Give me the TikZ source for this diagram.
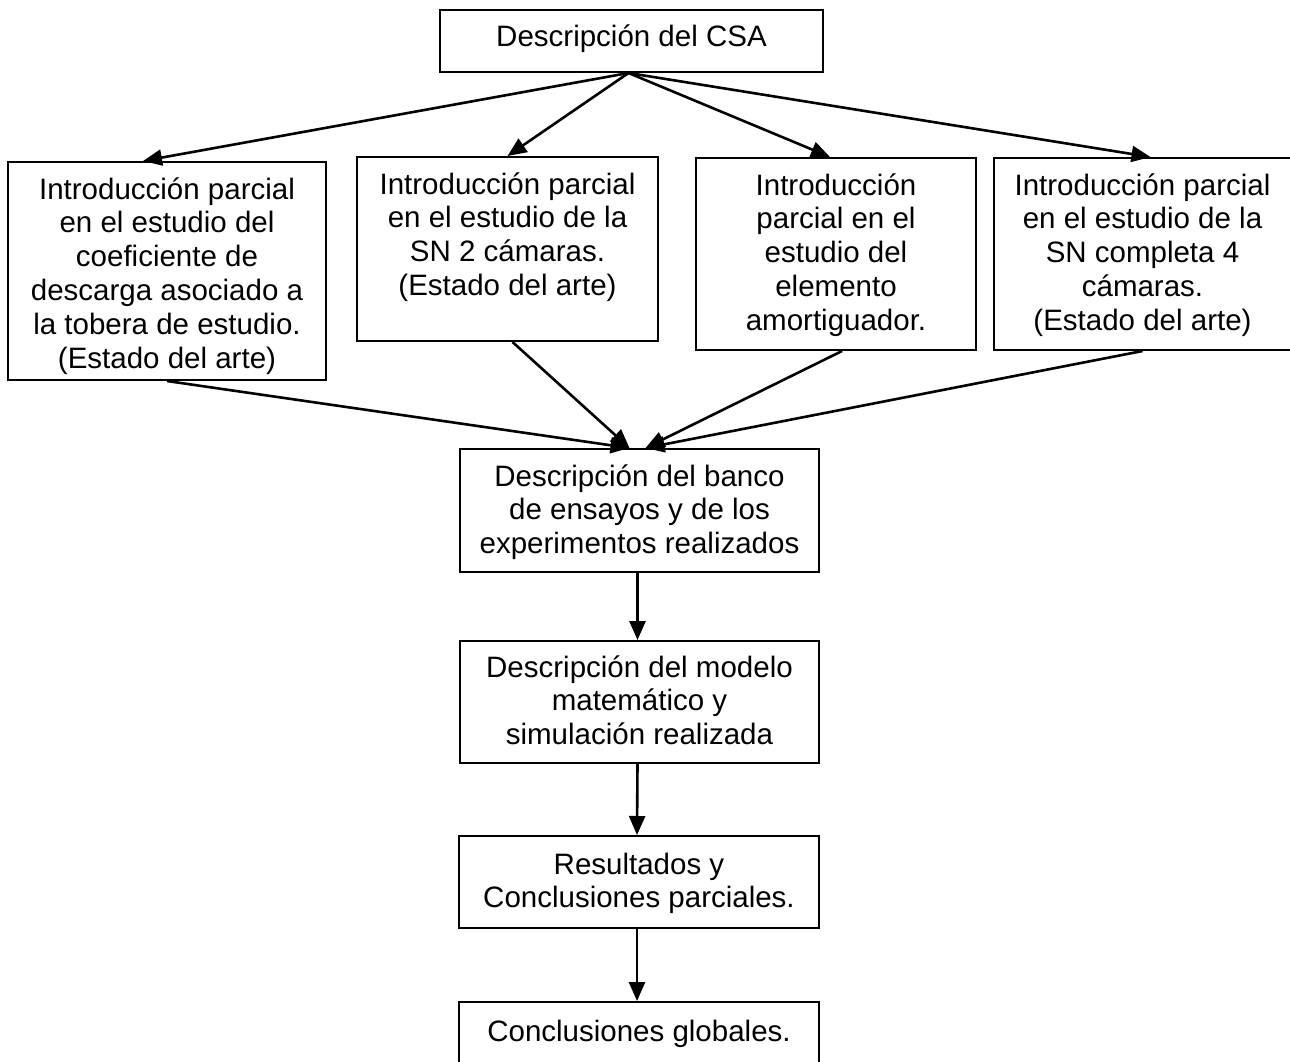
\documentclass[tikz,border=0pt]{standalone}
\usepackage{fontspec}
\setmainfont{Liberation Sans}
\usetikzlibrary{arrows.meta}
\tikzset{
  box/.style={draw=black, line width=2pt, inner sep=0pt},
  txt/.style={inner sep=0pt, anchor=base, font=\fontsize{29.5}{33.8}\selectfont},
  arr/.style={line width=2.6pt, -{Triangle[length=19pt,width=16pt]}}
}
\newcommand{\boxtext}[1]{\parbox[t]{360pt}{\centering #1}}
\begin{document}
\begin{tikzpicture}[x=1pt,y=-1pt]
\useasboundingbox (0,0) rectangle (1290,1062);
\clip (0,0) rectangle (1290,1062);
% boxes
\node[box, minimum width=383pt, minimum height=62pt] (top) at (631.5,41) {};
\node[box, minimum width=318pt, minimum height=218pt] (b1) at (167,271) {};
\node[box, minimum width=301pt, minimum height=184pt] (b2) at (507.5,249) {};
\node[box, minimum width=280pt, minimum height=192pt] (b3) at (836,254) {};
\node[box, minimum width=297pt, minimum height=192pt] (b4) at (1142.5,254) {};
\node[box, minimum width=359pt, minimum height=123pt] (m1) at (639.5,510.5) {};
\node[box, minimum width=359pt, minimum height=122pt] (m2) at (639.5,702) {};
\node[box, minimum width=360pt, minimum height=92pt] (m3) at (639,882) {};
\node[box, minimum width=360pt, minimum height=80pt] (m4) at (639,1042) {};
% texts
\node[txt] (ttop) at ([yshift=-38pt]top.north) {\boxtext{Descripción del CSA}};
\node[txt] (t1) at ([yshift=-38pt]b1.north) {\boxtext{Introducción parcial\\ en el estudio del\\ coeficiente de\\ descarga asociado a\\ la tobera de estudio.\\ (Estado del arte)}};
\node[txt] (t2) at ([yshift=-38pt]b2.north) {\boxtext{Introducción parcial\\ en el estudio de la\\ SN 2 cámaras.\\ (Estado del arte)}};
\node[txt] (t3) at ([yshift=-38pt]b3.north) {\boxtext{Introducción\\ parcial en el\\ estudio del\\ elemento\\ amortiguador.}};
\node[txt] (t4) at ([yshift=-38pt]b4.north) {\boxtext{Introducción parcial\\ en el estudio de la\\ SN completa 4\\ cámaras.\\ (Estado del arte)}};
\node[txt] (tm1) at ([yshift=-38pt]m1.north) {\boxtext{Descripción del banco\\ de ensayos y de los\\ experimentos realizados}};
\node[txt] (tm2) at ([yshift=-37pt]m2.north) {\boxtext{Descripción del modelo\\ matemático y\\ simulación realizada}};
\node[txt] (tm3) at ([yshift=-39pt]m3.north) {\boxtext{Resultados y\\ Conclusiones parciales.}};
\node[txt] (tm4) at ([yshift=-40pt]m4.north) {\boxtext{Conclusiones globales.}};
% arrows from top
\draw[arr] ([xshift=-3pt]top.south) -- ([xshift=-24pt]b1.north);
\draw[arr] ([xshift=-3pt]top.south) -- (b2.north);
\draw[arr] ([xshift=-3pt]top.south) -- ([xshift=-6pt]b3.north);
\draw[arr] ([xshift=-3pt]top.south) -- ([xshift=8pt]b4.north);
% converging arrows
\draw[arr] (b1.south) -- ([xshift=-10pt]m1.north);
\draw[arr] ([xshift=5pt]b2.south) -- ([xshift=-10pt]m1.north);
\draw[arr] ([xshift=6pt]b3.south) -- ([xshift=6pt]m1.north);
\draw[arr] (b4.south) -- ([xshift=6pt]m1.north);
% vertical chain
\draw[arr] ([xshift=-2pt]m1.south) -- ([xshift=-2pt]m2.north);
\draw[arr] ([xshift=-2pt]m2.south) -- ([xshift=-2pt]m3.north);
\draw[arr] ([xshift=-2pt]m3.south) -- ([xshift=-2pt]m4.north);
\end{tikzpicture}
\end{document}
